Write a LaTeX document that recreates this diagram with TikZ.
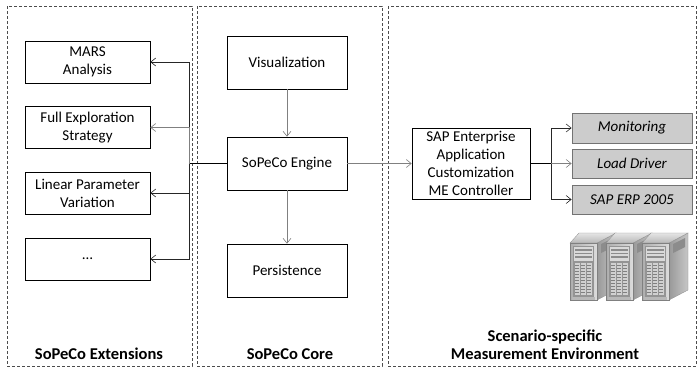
\documentclass[tikz,border=0pt]{standalone}
\usepackage{fontspec}
\setmainfont{Carlito}
\usetikzlibrary{arrows.meta}
\begin{document}
\begin{tikzpicture}[x=1pt,y=-1pt,
  panel/.style={draw=black!70, dash pattern=on 3pt off 2pt, line width=0.6pt},
  box/.style={draw=black, line width=0.6pt, fill=white, align=center,
    font=\fontsize{15}{18}\selectfont, inner sep=0pt},
  mebox/.style={box, draw=black!55, line width=0.8pt, fill=black!20,
    font=\fontsize{15}{18}\selectfont\itshape},
  tip/.style={-{Straight Barb[length=5pt,width=8pt,line width=0.6pt]}},
  garrow/.style={draw=black!50, line width=0.8pt, tip},
  karrow/.style={draw=black!85, line width=0.6pt, tip},
  bus/.style={draw=black, line width=1.1pt},
  paneltitle/.style={font=\fontsize{16.5}{18}\selectfont\bfseries, align=center}
]
\useasboundingbox (0,0) rectangle (700,376);

% panels
\draw[panel] (7,6) rectangle (192,366);
\draw[panel] (197,6) rectangle (382,366);
\draw[panel] (388,6) rectangle (696,366);

% extensions
\node[box, minimum width=125pt, minimum height=42pt] (mars) at (87.5,62) {MARS\\Analysis};
\node[box, minimum width=125pt, minimum height=42pt] (full) at (87.5,127.5) {Full Exploration\\Strategy};
\node[box, minimum width=125pt, minimum height=42pt] (lin) at (87.5,193) {Linear Parameter\\Variation};
\node[box, minimum width=125pt, minimum height=42pt] (more) at (87.5,259) {…};

% core
\node[box, minimum width=120pt, minimum height=53pt] (vis) at (287,62.5) {Visualization};
\node[box, minimum width=120pt, minimum height=53pt] (eng) at (287,163.5) {SoPeCo Engine};
\node[box, minimum width=120pt, minimum height=53pt] (pers) at (287,270.5) {Persistence};

% measurement environment
\node[box, minimum width=118pt, minimum height=71pt] (ctrl) at (471,163.5)
  {SAP Enterprise\\Application\\Customization\\ME Controller};
\node[mebox, minimum width=120pt, minimum height=30pt] (mon) at (632,128) {Monitoring};
\node[mebox, minimum width=120pt, minimum height=29pt] (load) at (632,163.5) {Load Driver};
\node[mebox, minimum width=120pt, minimum height=29pt] (erp) at (632,199.5) {SAP ERP 2005};

% connectors
\coordinate (lbus) at (189,163.5);
\coordinate (rbus) at (551,163.5);
\draw[bus] (eng.west) -- (lbus);
\draw[karrow] (lbus) |- (mars.east);
\draw[garrow] (lbus) |- (full.east);
\draw[karrow] (lbus) |- (lin.east);
\draw[karrow] (lbus) |- (more.east);
\draw[garrow] (vis) -- (eng);
\draw[garrow] (eng) -- (pers);
\draw[garrow] (eng) -- (ctrl);
\draw[bus] (ctrl.east) -- (rbus);
\draw[karrow] (rbus) |- (mon.west);
\draw[garrow] (rbus) -- (load.west);
\draw[karrow] (rbus) |- (erp.west);

% server towers, drawn left to right so each one hides the side of the previous
\foreach \sx in {570,606,642}{
  \begin{scope}[shift={(\sx,0)}]
    % side face with vent
    \shade[left color=black!40, right color=black!22, draw=black!45, line width=0.3pt]
      (27,243) -- (46,233) -- (46,290) -- (27,300) -- cycle;
    \fill[black!45] (31,244) -- (43,238) -- (43,247) -- (31,253) -- cycle;
    % top face
    \shade[top color=black!10, bottom color=black!28, draw=black!45, line width=0.3pt]
      (0,243) -- (9,233) -- (46,233) -- (27,243) -- cycle;
    % front face
    \shade[left color=black!32, right color=black!14, draw=black!50, line width=0.3pt]
      (0,243) rectangle (27,300);
    \fill[black!42] (3,246) rectangle (24,297);
    \fill[black!15] (4,247) rectangle (23,261);
    \foreach \yy in {249,252.5,256}
      \fill[black!45] (5,\yy) rectangle (22,\yy+1.6);
    \foreach \cx in {4.5,10.5,16.5}{
      \fill[black!18] (\cx,263) rectangle (\cx+5,295);
      \foreach \yy in {265,268,...,293}
        \fill[black!50] (\cx+0.9,\yy) rectangle (\cx+4.1,\yy+1);
    }
    \fill[black!28] (2,297) rectangle (25,300);
  \end{scope}
}

% panel titles
\node[paneltitle] (tx) at (99,354) {SoPeCo Extensions};
\node[paneltitle] (tc) at (290,354) {SoPeCo Core};
\node[paneltitle] (tm) at (545,345) {Scenario-specific\\Measurement Environment};
\end{tikzpicture}
\end{document}
